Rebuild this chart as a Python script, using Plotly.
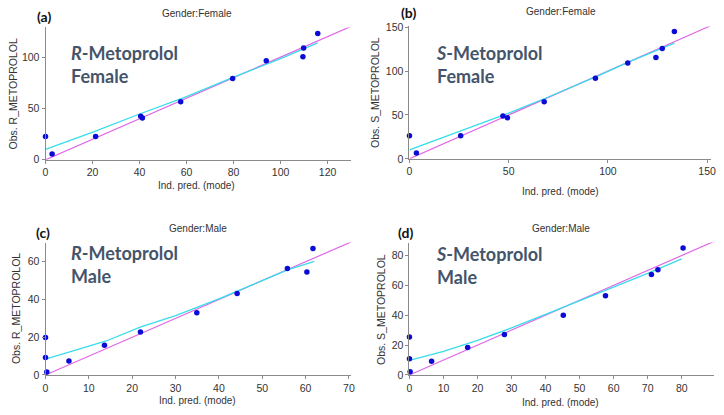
import plotly.graph_objects as go

# ---------------- data ----------------
# (a) R-Metoprolol, Female
a_pred = [0.0, 2.8, 21.3, 40.5, 41.2, 57.5, 79.6, 93.9, 109.5, 109.8, 115.8]
a_obs = [22.8, 5.7, 22.8, 42.4, 40.8, 56.6, 79.1, 96.5, 100.3, 108.9, 123.1]
a_smooth_x = [0, 21, 40, 60, 80, 100, 115.8]
a_smooth_y = [10.2, 27.7, 44.6, 61.5, 80.5, 98.5, 114.0]
a_ident = [0, 130]

# (b) S-Metoprolol, Female
b_pred = [0.0, 3.5, 25.8, 47.1, 49.4, 67.9, 93.7, 110.0, 124.2, 127.4, 133.5]
b_obs = [26.3, 6.7, 26.3, 48.9, 46.7, 65.2, 91.9, 109.3, 115.6, 125.9, 145.2]
b_smooth_x = [0, 25, 50, 70, 95, 110, 125, 133.5]
b_smooth_y = [10.3, 31.0, 52.0, 70.5, 94.5, 110.0, 124.0, 132.0]
b_ident = [0, 152]

# (c) R-Metoprolol, Male
c_pred = [0.0, 0.0, 0.3, 5.4, 13.6, 21.9, 34.9, 44.2, 55.8, 60.3, 61.7]
c_obs = [19.9, 9.3, 1.6, 7.4, 15.7, 22.7, 33.0, 43.2, 56.4, 54.6, 67.1]
c_smooth_x = [0, 5, 10, 14, 22, 30, 40, 50, 56, 62]
c_smooth_y = [8.4, 12.0, 15.3, 18.0, 25.5, 31.5, 40.3, 50.0, 55.8, 60.2]
c_ident = [0, 70.5]

# (d) S-Metoprolol, Male
d_pred = [0.0, 0.0, 0.2, 6.5, 17.1, 27.9, 45.2, 57.6, 71.1, 73.0, 80.4]
d_obs = [25.4, 10.9, 2.2, 9.1, 18.3, 27.0, 40.0, 53.0, 67.2, 70.4, 85.0]
d_smooth_x = [0, 10, 20, 30, 40, 50, 60, 70, 80]
d_smooth_y = [9.8, 15.8, 23.2, 31.5, 40.6, 49.6, 58.5, 68.0, 77.8]
d_ident = [0, 89.5]

panel_labels = ["(a)", "(b)", "(c)", "(d)"]
genders = ["Gender:Female", "Gender:Female", "Gender:Male", "Gender:Male"]
drugs = ["R", "S", "R", "S"]
sexes = ["Female", "Female", "Male", "Male"]
y_titles = ["Obs. R_METOPROLOL", "Obs. S_METOPROLOL", "Obs. R_METOPROLOL", "Obs. S_METOPROLOL"]
x_title = "Ind. pred. (mode)"
x_ranges = [[0, 130], [0, 152], [0, 70.5], [0, 89.5]]
y_ranges = [[0, 129], [0, 151], [0, 70.2], [0, 88.7]]
x_dtick = [20, 50, 10, 10]
y_dtick = [50, 50, 20, 20]

# ---------------- layout geometry (paper fractions) ----------------
W, H = 724, 415
x_domains = [[43 / W, 352 / W], [411 / W, 716 / W], [43 / W, 352 / W], [411 / W, 719 / W]]
y_domains = [[1 - 159 / H, 1 - 23 / H], [1 - 158 / H, 1 - 22 / H],
             [1 - 380 / H, 1 - 244 / H], [1 - 380 / H, 1 - 244 / H]]

POINT = "#0B0BD6"
CYAN = "#38DDEA"
PINK = "#E066E6"
AXIS = "#8A8A8A"
TEXT = "#333333"
ANNOT = "#44546A"
FONT = "Liberation Sans, Arial, sans-serif"

fig = go.Figure()
panels = [
    (a_pred, a_obs, a_smooth_x, a_smooth_y, a_ident),
    (b_pred, b_obs, b_smooth_x, b_smooth_y, b_ident),
    (c_pred, c_obs, c_smooth_x, c_smooth_y, c_ident),
    (d_pred, d_obs, d_smooth_x, d_smooth_y, d_ident),
]
for i, (px, py, sx, sy, ident) in enumerate(panels):
    xa = "x" if i == 0 else f"x{i+1}"
    ya = "y" if i == 0 else f"y{i+1}"
    fig.add_trace(go.Scatter(x=ident, y=ident, mode="lines", xaxis=xa, yaxis=ya,
                             line=dict(color=PINK, width=1.2), showlegend=False))
    fig.add_trace(go.Scatter(x=sx, y=sy, mode="lines", xaxis=xa, yaxis=ya,
                             line=dict(color=CYAN, width=1.3), showlegend=False))
    fig.add_trace(go.Scatter(x=px, y=py, mode="markers", xaxis=xa, yaxis=ya,
                             marker=dict(color=POINT, size=5.5), cliponaxis=False,
                             showlegend=False))

layout = dict(width=W, height=H, margin=dict(l=0, r=0, t=0, b=0),
              paper_bgcolor="white", plot_bgcolor="white",
              font=dict(family=FONT, size=10, color=TEXT))
for i in range(4):
    key = "" if i == 0 else str(i + 1)
    common = dict(showgrid=False, zeroline=False, showline=True, linecolor=AXIS,
                  linewidth=1, ticks="outside", ticklen=3, tickcolor=AXIS,
                  tickfont=dict(family=FONT, size=10.5, color=TEXT))
    layout["xaxis" + key] = dict(domain=x_domains[i], range=x_ranges[i], dtick=x_dtick[i],
                                 anchor="y" + key, **common)
    layout["yaxis" + key] = dict(domain=y_domains[i], range=y_ranges[i], dtick=y_dtick[i],
                                 anchor="x" + key, **common)
fig.update_layout(**layout)

# annotations
title_pos = [(196, 9), (564, 7), (197, 230), (564, 230)]
label_pos = [(41.7, 12), (410, 8), (40, 234), (407, 234)]
xt_pos = [(196, 185), (564, 192), (197, 406), (564, 408)]
yt_pos = [(10, 91), (375.5, 90), (12.5, 312), (381.5, 313)]
big_pos = [(67, 61), (436, 61), (67, 267), (436, 268)]

for i in range(4):
    fig.add_annotation(text=genders[i], xref="paper", yref="paper",
                       x=title_pos[i][0] / W, y=1 - title_pos[i][1] / H,
                       xanchor="center", yanchor="middle", showarrow=False,
                       font=dict(family=FONT, size=10, color=TEXT))
    fig.add_annotation(text="<b>" + panel_labels[i] + "</b>", xref="paper", yref="paper",
                       x=label_pos[i][0] / W, y=1 - label_pos[i][1] / H,
                       xanchor="center", yanchor="middle", showarrow=False,
                       font=dict(family="Lato, sans-serif", size=14, color="#111111"))
    fig.add_annotation(text=x_title, xref="paper", yref="paper",
                       x=xt_pos[i][0] / W, y=1 - xt_pos[i][1] / H,
                       xanchor="center", yanchor="middle", showarrow=False,
                       font=dict(family=FONT, size=10, color=TEXT))
    fig.add_annotation(text=y_titles[i], xref="paper", yref="paper", textangle=-90,
                       x=yt_pos[i][0] / W, y=1 - yt_pos[i][1] / H,
                       xanchor="center", yanchor="middle", showarrow=False,
                       font=dict(family=FONT, size=10.5, color=TEXT))
    fig.add_annotation(text="<b><i>" + drugs[i] + "</i>-Metoprolol</b><br><b>" + sexes[i] + "</b>",
                       xref="paper", yref="paper", align="left",
                       x=big_pos[i][0] / W, y=1 - big_pos[i][1] / H,
                       xanchor="left", yanchor="middle", showarrow=False,
                       font=dict(family="Lato, sans-serif", size=18, color=ANNOT))

fig.write_html("out.html", config={"displayModeBar": False},
               post_script="document.body.style.margin='0px';")
